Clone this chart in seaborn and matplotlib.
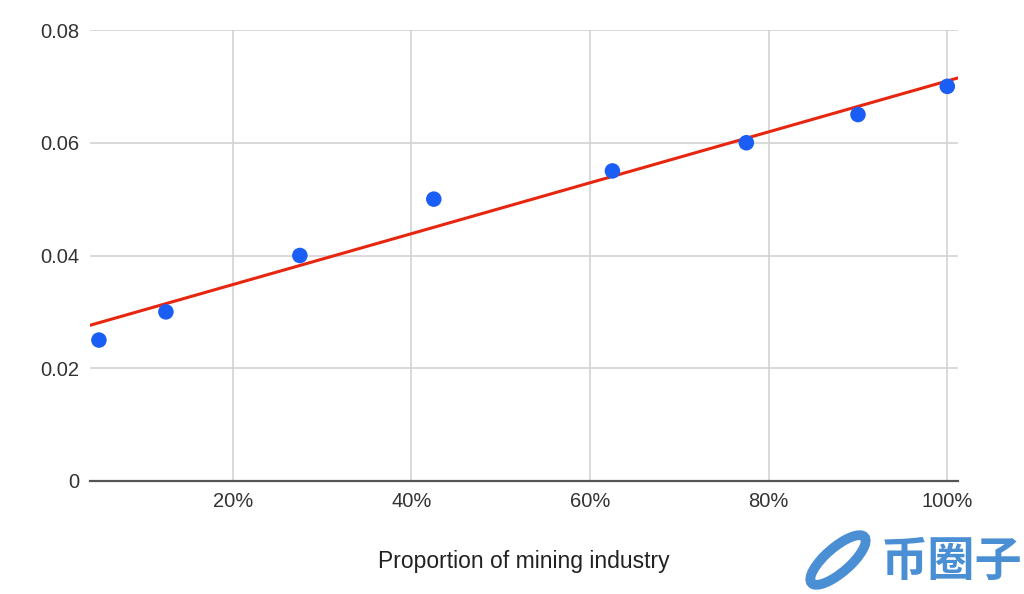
import numpy as np
import pandas as pd
import matplotlib
matplotlib.use("Agg")
import matplotlib.pyplot as plt
import seaborn as sns
from matplotlib.ticker import FuncFormatter, FixedLocator
from matplotlib.patches import Ellipse

# Data
mining_share = [0.05, 0.125, 0.275, 0.425, 0.625, 0.775, 0.90, 1.00]
value = [0.025, 0.030, 0.040, 0.050, 0.055, 0.060, 0.065, 0.070]
x_ticks = [0.2, 0.4, 0.6, 0.8, 1.0]
y_ticks = [0, 0.02, 0.04, 0.06, 0.08]
x_label = "Proportion of mining industry"
watermark = "币圈子"

df = pd.DataFrame({"x": mining_share, "y": value})

sns.set_theme(style="white")
plt.rcParams['font.family'] = ['Liberation Sans', 'DejaVu Sans']

fig = plt.figure(figsize=(10.24, 5.94), dpi=100)
ax = fig.add_axes([90/1024, 1 - 481/594, (958-90)/1024, (481-30)/594])

ax.set_xlim(0.04, 1.012)
ax.set_ylim(0, 0.08)

ax.xaxis.set_major_locator(FixedLocator(x_ticks))
ax.yaxis.set_major_locator(FixedLocator(y_ticks))
ax.grid(True, color="#d3d3d3", linewidth=1.2)
ax.set_axisbelow(True)

sns.regplot(data=df, x="x", y="y", ax=ax, scatter=False, ci=None, truncate=False,
            line_kws=dict(color="#e8260f", linewidth=2.2, zorder=3))
sns.scatterplot(data=df, x="x", y="y", ax=ax, s=125, color="#1a5ef5",
                edgecolor="none", zorder=4, legend=False)

ax.set_xlim(0.04, 1.012)
ax.set_ylim(0, 0.08)

ax.xaxis.set_major_formatter(FuncFormatter(lambda v, p: f"{v*100:.0f}%"))
ax.yaxis.set_major_formatter(FuncFormatter(lambda v, p: "0" if v == 0 else f"{v:.2f}"))

for s in ["top", "right", "left"]:
    ax.spines[s].set_visible(False)
ax.spines["bottom"].set_color("#555555")
ax.spines["bottom"].set_linewidth(1.6)

ax.tick_params(axis="both", length=0, labelsize=14.5, colors="#333333")
ax.tick_params(axis="x", pad=8)
ax.tick_params(axis="y", pad=8)

ax.set_xlabel(x_label, fontsize=16.5, color="#222222", labelpad=28)
ax.set_ylabel("")

# watermark logo
fig.patches.append(Ellipse((838/1024, 1 - 560/594), 0.030, 0.095, angle=-30,
                           transform=fig.transFigure, facecolor="none",
                           edgecolor="#4a8fd4", linewidth=7))
fig.text(952/1024, 1 - 562/594, watermark, ha="center", va="center",
         fontsize=34, fontweight="bold", color="#4a8fd4",
         family=["Noto Sans CJK SC", "DejaVu Sans"])

fig.savefig("out.png", dpi=100)
